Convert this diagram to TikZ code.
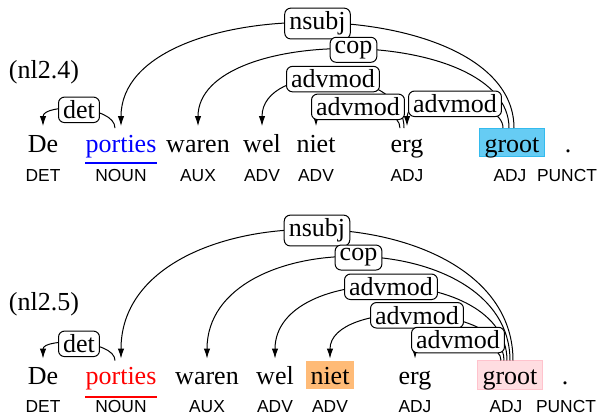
\documentclass[tikz,border=0pt]{standalone}
\usepackage{fontspec}
\newfontfamily\serfam{LiberationSerif}[Extension=.ttf, UprightFont=*-Regular]
\newfontfamily\posfam{Liberation Sans}
\usetikzlibrary{arrows.meta,calc}
\newcommand\wfont{\serfam\fontsize{13}{15}\selectfont}
\newcommand\pfont{\posfam\fontsize{8.7}{10}\selectfont}
\definecolor{cyanfill}{RGB}{102,204,244}
\definecolor{cyanline}{RGB}{51,187,238}
\definecolor{orangefill}{RGB}{255,187,119}
\definecolor{pinkfill}{RGB}{255,221,225}
\definecolor{pinkline}{RGB}{255,195,205}
\tikzset{
  wordbox/.style={anchor=base, inner xsep=2.5pt, inner ysep=0.75pt, text height=11.25pt, text depth=1.5pt, font=\wfont},
  postag/.style={anchor=base, inner sep=0pt, font=\pfont},
  deplab/.style={draw, fill=white, rounded corners=3pt, inner xsep=2.3pt, inner ysep=1.8pt, font=\wfont, line width=0.5pt},
  depedge/.style={line width=0.5pt, -{Latex[length=5pt,width=3.2pt]}},
  title/.style={font=\wfont},
}
\begin{document}
\begin{tikzpicture}[x=0.5pt,y=-0.5pt]
\useasboundingbox (0,0) rectangle (600,416);

% ---------- sentence 1 ----------
\node[title] (t1) at (44,72.5) {(nl2.4)};
\node[wordbox] (a1) at (43,152.5) {De};
\node[wordbox, text=blue] (a2) at (121,152.5) {porties};
\node[wordbox] (a3) at (198,152.5) {waren};
\node[wordbox] (a4) at (262,152.5) {wel};
\node[wordbox] (a5) at (316,152.5) {niet};
\node[wordbox] (a6) at (407,152.5) {erg};
\node[wordbox, fill=cyanfill, draw=cyanline, line width=0.5pt] (a7) at (512,152.5) {groot};
\node[wordbox] (a8) at (568,152.5) {.};
\draw[blue, line width=0.6pt] ($(a2.base west)+(5,10.5)$) -- ($(a2.base east)+(-5,10.5)$);

\node[postag] (p1) at (43,181.5) {DET};
\node[postag] (p2) at (121,181.5) {NOUN};
\node[postag] (p3) at (198,181.5) {AUX};
\node[postag] (p4) at (262,181.5) {ADV};
\node[postag] (p5) at (316,181.5) {ADV};
\node[postag] (p6) at (407,181.5) {ADJ};
\node[postag] (p7) at (510,181.5) {ADJ};
\node[postag] (p8) at (567,181.5) {PUNCT};

\draw[depedge] ($(a2.north)+(-6,0)$) .. controls +(0,-23) and +(0,-23) .. ($(a1.north)+(0,-2)$) coordinate[pos=.5] (m1);
\draw[depedge] ($(a7.north)+(2,0)$) .. controls +(0,-138) and +(0,-138) .. ($(a2.north)+(0,-2)$) coordinate[pos=.5] (m2);
\draw[depedge] ($(a7.north)+(-3,0)$) .. controls +(0,-103) and +(0,-103) .. ($(a3.north)+(0,-2)$) coordinate[pos=.5] (m3);
\draw[depedge] ($(a6.north)+(-3,0)$) .. controls +(0,-64) and +(0,-64) .. ($(a4.north)+(0,-2)$) coordinate[pos=.5] (m4);
\draw[depedge] ($(a6.north)+(-7,0)$) .. controls +(0,-27) and +(0,-27) .. ($(a5.north)+(0,-2)$) coordinate[pos=.5] (m5);
\draw[depedge] ($(a7.north)+(-9,0)$) .. controls +(0,-31) and +(0,-31) .. ($(a6.north)+(0,-2)$) coordinate[pos=.5] (m6);

\node[deplab] (l1) at (m1) {det};
\node[deplab] (l2) at (m2) {nsubj};
\node[deplab] (l3) at (m3) {cop};
\node[deplab] (l4) at (m4) {advmod};
\node[deplab] (l5) at (m5) {advmod};
\node[deplab] (l6) at (m6) {advmod};

% ---------- sentence 2 ----------
\node[title] (t2) at (44,304) {(nl2.5)};
\node[wordbox] (b1) at (43,385) {De};
\node[wordbox, text=red] (b2) at (121,385) {porties};
\node[wordbox] (b3) at (207,385) {waren};
\node[wordbox] (b4) at (275,385) {wel};
\node[wordbox, fill=orangefill] (b5) at (330,385) {niet};
\node[wordbox] (b6) at (415,385) {erg};
\node[wordbox, fill=pinkfill, draw=pinkline, line width=0.5pt] (b7) at (510,385) {groot};
\node[wordbox] (b8) at (565,385) {.};
\draw[red, line width=0.6pt] ($(b2.base west)+(5,12)$) -- ($(b2.base east)+(-5,12)$);

\node[postag] (q1) at (43,413) {DET};
\node[postag] (q2) at (121,413) {NOUN};
\node[postag] (q3) at (207,413) {AUX};
\node[postag] (q4) at (275,413) {ADV};
\node[postag] (q5) at (330,413) {ADV};
\node[postag] (q6) at (415,413) {ADJ};
\node[postag] (q7) at (506,413) {ADJ};
\node[postag] (q8) at (566,413) {PUNCT};

\draw[depedge] ($(b2.north)+(-6,0)$) .. controls +(0,-21) and +(0,-21) .. ($(b1.north)+(0,-2)$) coordinate[pos=.5] (n1);
\draw[depedge] ($(b7.north)+(3,0)$) .. controls +(0,-172) and +(0,-172) .. ($(b2.north)+(0,-2)$) coordinate[pos=.5] (n2);
\draw[depedge] ($(b7.north)+(0,0)$) .. controls +(0,-136) and +(0,-136) .. ($(b3.north)+(0,-2)$) coordinate[pos=.5] (n3);
\draw[depedge] ($(b7.north)+(-3,0)$) .. controls +(0,-97) and +(0,-97) .. ($(b4.north)+(0,-2)$) coordinate[pos=.5] (n4);
\draw[depedge] ($(b7.north)+(-6,0)$) .. controls +(0,-59) and +(0,-59) .. ($(b5.north)+(0,-2)$) coordinate[pos=.5] (n5);
\draw[depedge] ($(b7.north)+(-9,0)$) .. controls +(0,-26) and +(0,-26) .. ($(b6.north)+(0,-2)$) coordinate[pos=.5] (n6);

\node[deplab] (k1) at (n1) {det};
\node[deplab] (k2) at (n2) {nsubj};
\node[deplab] (k3) at (n3) {cop};
\node[deplab] (k4) at (n4) {advmod};
\node[deplab] (k5) at (n5) {advmod};
\node[deplab] (k6) at (n6) {advmod};
\end{tikzpicture}
\end{document}
